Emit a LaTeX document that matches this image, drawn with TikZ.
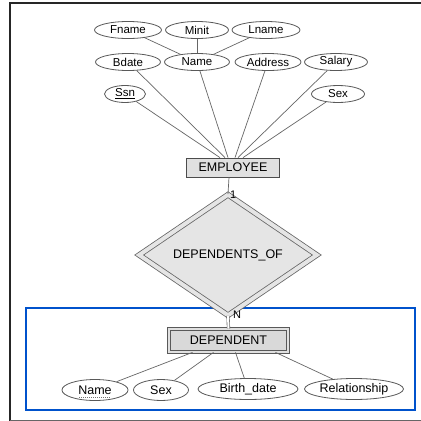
\documentclass[tikz,border=0pt]{standalone}
\usepackage{fontspec}
\setmainfont{Liberation Sans}
\usetikzlibrary{shapes.geometric}
\begin{document}
\begin{tikzpicture}[x=1pt,y=-1pt,
  attr/.style={ellipse, draw=black!65, line width=0.8pt, fill=white, inner sep=0pt,
    minimum height=17pt, font=\fontsize{11.5}{12}\selectfont},
  dattr/.style={ellipse, draw=black!65, line width=0.8pt, fill=white, inner sep=0pt,
    minimum height=21pt, font=\fontsize{12.5}{13}\selectfont},
  conn/.style={draw=black!60, line width=0.7pt},
  entbox/.style={rectangle, draw=black!70, line width=0.8pt, fill=black!12, inner sep=0pt,
    font=\fontsize{12.5}{13}\selectfont},
  wentbox/.style={rectangle, draw=black!65, line width=0.8pt, double=black!12, double distance=2.4pt,
    fill=black!15, inner sep=0pt, font=\fontsize{12.5}{13}\selectfont},
  relshape/.style={diamond, draw=black!60, line width=0.8pt, double=black!10, double distance=4pt,
    fill=black!10, inner sep=0pt, font=\fontsize{12.5}{13}\selectfont},
  card/.style={font=\fontsize{11}{12}\selectfont, inner sep=0pt, anchor=west}
]
\useasboundingbox (0,0) rectangle (421,421);
\fill[white] (0,0) rectangle (421,421);
% outer frame
\draw[black!85, line width=1.6pt] (421,3) -- (10,3) -- (10,421);
\draw[black!60, line width=1pt] (10,420) -- (421,420);
% blue box
\draw[blue!60!cyan!80!black, line width=1.5pt] (26,308) rectangle (415,410);

% EMPLOYEE attributes
\node[attr, minimum width=67pt] (fname) at (128,30) {Fname};
\node[attr, minimum width=63pt] (minit) at (197,30) {Minit};
\node[attr, minimum width=68pt] (lname) at (266,30) {Lname};
\node[attr, minimum width=65pt] (bdate) at (128,62) {Bdate};
\node[attr, minimum width=65pt] (name) at (197,62) {Name};
\node[attr, minimum width=66pt] (addr) at (268,62) {Address};
\node[attr, minimum width=63pt] (salary) at (336,62) {Salary};
\node[attr, minimum width=41pt] (ssn) at (125,94) {\underline{Ssn}};
\node[attr, minimum width=53pt] (esex) at (338,94) {Sex};

\node[entbox, minimum width=93pt, minimum height=19pt] (emp) at (233,167.5) {EMPLOYEE};

\coordinate (eSsn) at ([xshift=-13pt]emp.north);
\coordinate (eBdate) at ([xshift=-8pt]emp.north);
\coordinate (eName) at ([xshift=-5pt]emp.north);
\coordinate (eAddr) at ([xshift=2pt]emp.north);
\coordinate (eSalary) at ([xshift=5pt]emp.north);
\coordinate (eSex) at ([xshift=10pt]emp.north);

\draw[conn] (fname) -- (name);
\draw[conn] (minit) -- (name);
\draw[conn] (lname) -- (name);
\draw[conn] (ssn) -- (eSsn);
\draw[conn] (bdate) -- (eBdate);
\draw[conn] (name) -- (eName);
\draw[conn] (addr) -- (eAddr);
\draw[conn] (salary) -- (eSalary);
\draw[conn] (esex) -- (eSex);

% relationship
\node[relshape, minimum width=178pt, minimum height=99pt] (rel) at (228,255) {DEPENDENTS\_OF};
\draw[conn] ([xshift=-4pt]emp.south) -- (rel.north);
\node[card] (one) at (230,195) {1};

% weak entity
\node[wentbox, minimum width=119pt, minimum height=23pt] (dep) at (228.5,340.5) {DEPENDENT};
\draw[draw=black!60, line width=0.6pt, double=white, double distance=2pt] (rel.south) -- (dep.north);
\node[card] (nlab) at (233,315) {N};

% DEPENDENT attributes
\node[dattr, minimum width=66pt] (dname) at (95,390) {Name};
\node[dattr, minimum width=55pt] (dsex) at (161,390) {Sex};
\node[dattr, minimum width=100pt] (bd) at (248,389) {Birth\_date};
\node[dattr, minimum width=99pt] (relat) at (354,389) {Relationship};
\draw[black!55, line width=0.6pt, dash pattern=on 1pt off 1pt]
  ([xshift=-16pt,yshift=-7pt]dname.center) -- ([xshift=16pt,yshift=-7pt]dname.center);

\coordinate (dA) at ([xshift=-36pt]dep.south);
\coordinate (dB) at ([xshift=-15pt]dep.south);
\coordinate (dC) at ([xshift=7pt]dep.south);
\coordinate (dD) at ([xshift=47pt]dep.south);
\draw[conn] (dA) -- (dname);
\draw[conn] (dB) -- (dsex);
\draw[conn] (dC) -- (bd);
\draw[conn] (dD) -- (relat);
\end{tikzpicture}
\end{document}
